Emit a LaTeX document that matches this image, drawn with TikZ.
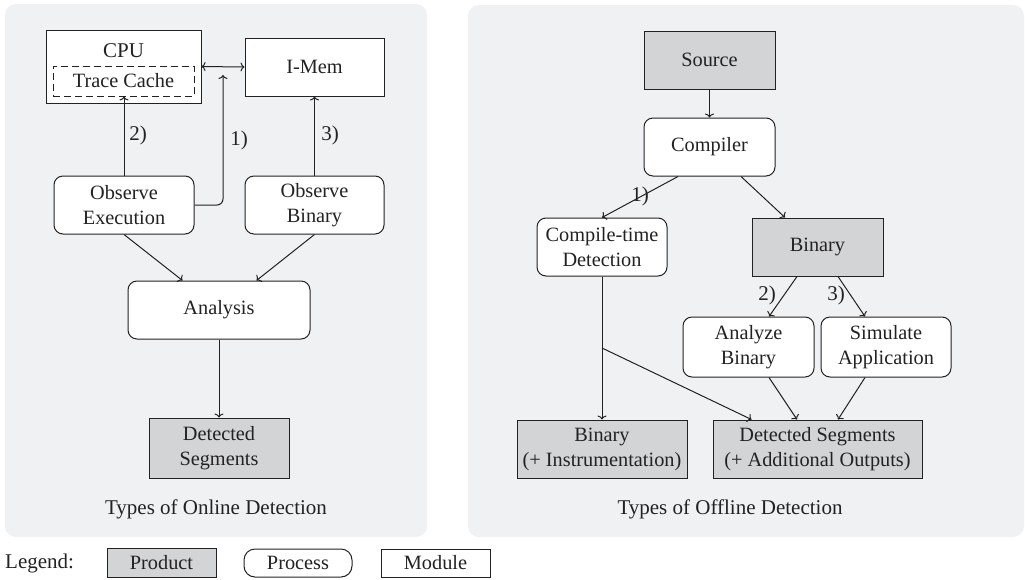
\documentclass[tikz,border=0pt]{standalone}
\usepackage{fontspec}
\setmainfont{Liberation Serif}
\usetikzlibrary{calc,arrows.meta}
\definecolor{panel}{HTML}{F0F1F3}
\definecolor{prod}{HTML}{D3D4D6}
\definecolor{ink}{HTML}{222222}
\tikzset{
  base/.style={draw=ink, line width=1pt, text=ink, inner sep=0pt, align=center,
    font=\fontsize{20.3}{25}\selectfont},
  product/.style={base, rectangle, fill=prod},
  process/.style={base, rectangle, rounded corners=9pt, fill=white},
  module/.style={base, rectangle, fill=white},
  lbl/.style={text=ink, inner sep=0pt, font=\fontsize{21}{24}\selectfont},
  conn/.style={draw=ink, line width=1pt, -{To[length=4pt,width=9pt]}},
  panelbg/.style={fill=panel, draw=none, rounded corners=11pt}
}
\begin{document}
\begin{tikzpicture}[x=1pt,y=-1pt]
\useasboundingbox (0,0) rectangle (1025,579);
% panels
\path[panelbg] (5,4) rectangle (427,537);
\path[panelbg] (468,5) rectangle (1024,537);

% ---------- left panel ----------
\node[module, minimum width=155pt, minimum height=73pt] (cpu) at (123.5,66.5) {};
\node[lbl] (cpulbl) at (123.5,51) {CPU};
\node[base, dashed, dash pattern=on 7pt off 4pt, minimum width=141pt, minimum height=30pt] (tc) at (123.5,81) {Trace Cache};
\node[module, minimum width=139pt, minimum height=58pt] (imem) at (314.5,67) {I-Mem};
\node[process, minimum width=140pt, minimum height=58pt] (oe) at (124,205) {Observe\\Execution};
\node[process, minimum width=139pt, minimum height=58pt] (ob) at (314.5,205) {Observe\\Binary};
\node[process, minimum width=182pt, minimum height=58pt] (an) at (219,310) {Analysis};
\node[product, minimum width=140pt, minimum height=60pt] (dsl) at (219,448) {Detected\\Segments};
\node[lbl] (tol) at (216,509) {Types of Online Detection};

\draw[conn, {To[length=4pt,width=9pt]}-{To[length=4pt,width=9pt]}] (cpu.east) -- (imem.west);
\coordinate (c1) at (223,75);
\draw[conn, rounded corners=6pt] (oe.east) -| (c1);
\draw[conn] (oe.north) -- (oe.north |- tc.south);
\draw[conn] (ob.north) -- (imem.south);
\draw[conn] (oe.south) -- ($(an.north west)+(55,0)$);
\draw[conn] (ob.south) -- ($(an.north west)+(129,0)$);
\draw[conn] (an.south) -- (dsl.north);
\node[lbl] (l1) at (239,140) {1)};
\node[lbl] (l2) at (138,135) {2)};
\node[lbl] (l3) at (330,135) {3)};

% ---------- right panel ----------
\node[product, minimum width=131pt, minimum height=58pt] (src) at (709.5,60) {Source};
\node[process, minimum width=131pt, minimum height=58pt] (comp) at (709.5,147) {Compiler};
\node[process, minimum width=130pt, minimum height=58pt] (ct) at (602,247) {Compile-time\\Detection};
\node[product, minimum width=131pt, minimum height=58pt] (bin) at (817.5,247) {Binary};
\node[process, minimum width=131pt, minimum height=60pt] (ab) at (748.5,347) {Analyze\\Binary};
\node[process, minimum width=130pt, minimum height=60pt] (sa) at (886,347) {Simulate\\Application};
\node[product, minimum width=170pt, minimum height=58pt] (bi) at (602,449) {Binary\\(+ Instrumentation)};
\node[product, minimum width=209pt, minimum height=58pt] (dsr) at (817.5,449) {Detected Segments\\(+ Additional Outputs)};
\node[lbl] (tof) at (730,509) {Types of Offline Detection};

\draw[conn] (src.south) -- (comp.north);
\draw[conn] ($(comp.south)+(-31.5,0)$) -- (ct.north);
\draw[conn] ($(comp.south)+(31.5,0)$) -- ($(bin.north)+(-32.5,0)$);
\draw[conn] ($(bin.south)+(-20.5,0)$) -- ($(ab.north)+(20.5,0)$);
\draw[conn] ($(bin.south)+(20.5,0)$) -- ($(sa.north)+(-21,0)$);
\draw[conn] (ct.south) -- (bi.north);
\coordinate (br) at (602,348);
\draw[conn] (br) -- ($(dsr.north west)+(39,0)$);
\draw[conn] ($(ab.south)+(20.5,0)$) -- ($(dsr.north)+(-20.5,0)$);
\draw[conn] ($(sa.south)+(-21,0)$) -- ($(dsr.north)+(20.5,0)$);
\node[lbl] (r1) at (640,196) {1)};
\node[lbl] (r2) at (767,295) {2)};
\node[lbl] (r3) at (836,295) {3)};

% ---------- legend ----------
\node[lbl, anchor=west] (leg) at (5,563) {Legend:};
\node[product, minimum width=109pt, minimum height=29pt] (lp) at (161.5,562.5) {Product};
\node[process, rounded corners=11pt, minimum width=108pt, minimum height=28pt] (lpr) at (298,563) {Process};
\node[module, minimum width=109pt, minimum height=28pt] (lm) at (435.5,563) {Module};
\end{tikzpicture}
\end{document}
